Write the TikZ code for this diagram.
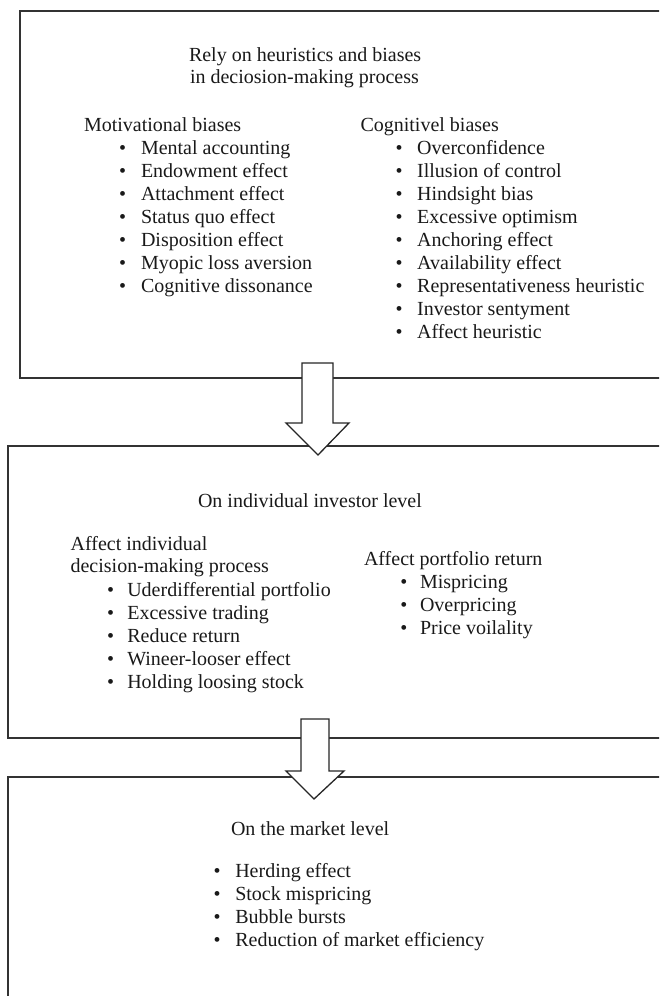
\documentclass[tikz,border=0pt]{standalone}
\usepackage{fontspec}
\setmainfont{Liberation Serif}
\begin{document}
\begin{tikzpicture}[x=1pt,y=-1pt,
  lbl/.style={anchor=base west, inner sep=0pt, outer sep=0pt, font=\fontsize{20}{23}\selectfont, text=black!90},
  bul/.style={anchor=base, inner sep=0pt, outer sep=0pt, font=\fontsize{20}{23}\selectfont, text=black!90},
  boxline/.style={draw=black!80, line width=1.7pt, inner sep=0pt, outer sep=0pt, anchor=north west},
  blockarrow/.style={draw=black!85, line width=1.3pt, fill=white, line join=miter}]
\useasboundingbox (0,0) rectangle (659,996);
\clip (0,0) rectangle (659,996);
% boxes
\node[boxline, minimum width=700pt, minimum height=367pt] (b1) at (20,11) {};
\node[boxline, minimum width=700pt, minimum height=292pt] (b2) at (8,446) {};
\node[boxline, minimum width=700pt, minimum height=260pt] (b3) at (8,777) {};
% block arrows
\coordinate (a1) at (317.5,363);
\coordinate (a2) at (315,719);
\draw[blockarrow] ([xshift=-15.5pt]a1) -- ([xshift=15.5pt]a1) -- ([xshift=15.5pt,yshift=-60pt]a1)
  -- ([xshift=31.5pt,yshift=-60pt]a1) -- ([xshift=0.5pt,yshift=-92pt]a1) -- ([xshift=-31.5pt,yshift=-60pt]a1)
  -- ([xshift=-15.5pt,yshift=-60pt]a1) -- cycle;
\draw[blockarrow] ([xshift=-14pt]a2) -- ([xshift=14pt]a2) -- ([xshift=14pt,yshift=-52pt]a2)
  -- ([xshift=29pt,yshift=-52pt]a2) -- ([xshift=-1pt,yshift=-80pt]a2) -- ([xshift=-29pt,yshift=-52pt]a2)
  -- ([xshift=-14pt,yshift=-52pt]a2) -- cycle;
% box 1 text
\node[lbl] (t1a) at (189,61) {Rely on heuristics and biases};
\node[lbl] (t1b) at (190,83) {in deciosion-making process};
\node[lbl] (mh) at (84,131) {Motivational biases};
\node[lbl] (ch) at (360.5,131) {Cognitivel biases};
\foreach \t [count=\i] in {Mental accounting, Endowment effect, Attachment effect, Status quo effect, Disposition effect, Myopic loss aversion, Cognitive dissonance}{
  \node[bul] (mb\i) at (122.7,{154+23*(\i-1)}) {•};
  \node[lbl] (mt\i) at (141,{154+23*(\i-1)}) {\t};
}
\foreach \t [count=\i] in {Overconfidence, Illusion of control, Hindsight bias, Excessive optimism, Anchoring effect, Availability effect, Representativeness heuristic, Investor sentyment, Affect heuristic}{
  \node[bul] (cb\i) at (399.2,{154+23*(\i-1)}) {•};
  \node[lbl] (ct\i) at (417.2,{154+23*(\i-1)}) {\t};
}
% box 2 text
\node[lbl] (t2) at (198,507) {On individual investor level};
\node[lbl] (dh1) at (70.6,550) {Affect individual};
\node[lbl] (dh2) at (70.6,572) {decision-making process};
\node[lbl] (ph) at (364,565) {Affect portfolio return};
\foreach \t [count=\i] in {Uderdifferential portfolio, Excessive trading, Reduce return, Wineer-looser effect, Holding loosing stock}{
  \node[bul] (db\i) at (110.5,{596+23*(\i-1)}) {•};
  \node[lbl] (dt\i) at (127.3,{596+23*(\i-1)}) {\t};
}
\foreach \t [count=\i] in {Mispricing, Overpricing, Price voilality}{
  \node[bul] (pb\i) at (403.8,{588+23*(\i-1)}) {•};
  \node[lbl] (pt\i) at (420,{588+23*(\i-1)}) {\t};
}
% box 3 text
\node[lbl] (t3) at (231,835) {On the market level};
\foreach \t [count=\i] in {Herding effect, Stock mispricing, Bubble bursts, Reduction of market efficiency}{
  \node[bul] (kb\i) at (217,{877+23*(\i-1)}) {•};
  \node[lbl] (kt\i) at (235.3,{877+23*(\i-1)}) {\t};
}
\end{tikzpicture}
\end{document}
